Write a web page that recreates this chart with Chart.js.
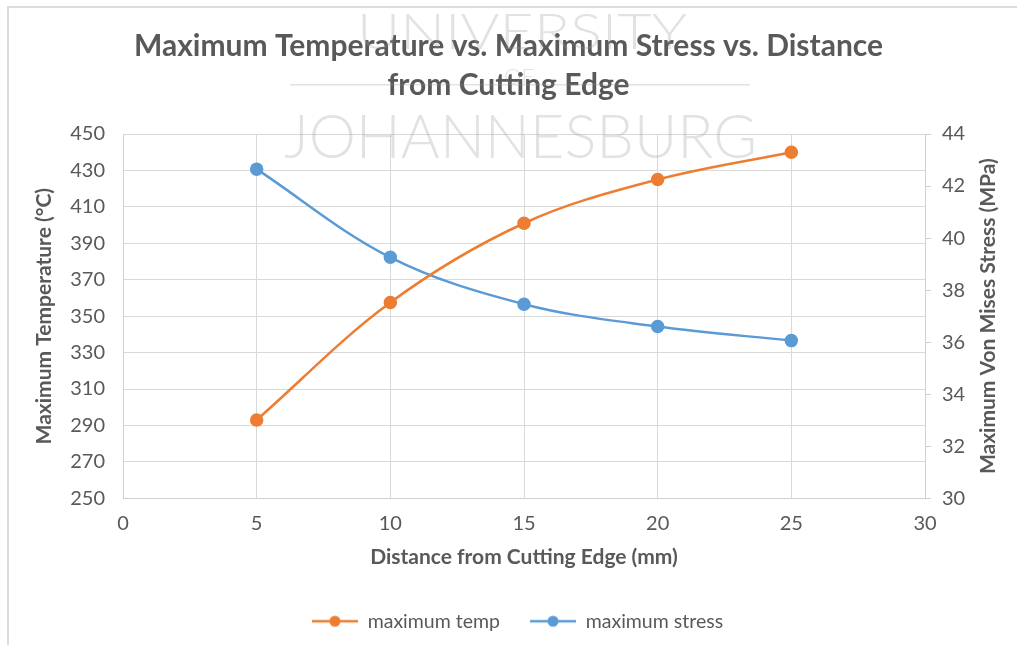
<!DOCTYPE html>
<html>
<head>
<meta charset="utf-8">
<script src="https://cdn.jsdelivr.net/npm/chart.js@4.4.1/dist/chart.umd.min.js"></script>
<style>
  body { margin: 0; background: #fff; }
  #wrap { position: relative; width: 1017px; height: 645px; }
  #frame { position: absolute; left: 7px; top: 6px; right: 0; bottom: 0;
           border-left: 2px solid #dcdcdc; border-top: 2px solid #dcdcdc; pointer-events: none; }
</style>
</head>
<body>
<div id="wrap">
  <canvas id="myChart" width="1017" height="645"></canvas>
  <div id="frame"></div>
</div>
<script>
const distances = [5, 10, 15, 20, 25];
const maxTemp = [293, 357.5, 401, 425, 440];
const maxStress = [42.65, 39.26, 37.46, 36.6, 36.06];
const seriesNames = ['maximum temp', 'maximum stress'];
const chartTitle = ['Maximum Temperature vs. Maximum Stress vs. Distance', 'from Cutting Edge'];
const xTitle = 'Distance from Cutting Edge (mm)';
const yTitle = 'Maximum Temperature (°C)';
const y1Title = 'Maximum Von Mises Stress (MPa)';
const watermark = ['UNIVERSITY', 'OF', 'JOHANNESBURG'];

const orange = '#ED7D31';
const blue = '#5B9BD5';
const grey = '#595959';
const tickFont = { family: 'Lato', size: 20 };
const axisFont = { family: 'Lato', size: 21, weight: 'bold' };

// legend marker: short line with a dot, padded on the left to space the items
function legendIcon(color){
    const c = document.createElement('canvas');
    c.width = 64; c.height = 14;
    const g = c.getContext('2d');
    g.strokeStyle = color;
    g.lineWidth = 2.5;
    g.beginPath();
    g.moveTo(18, 7); g.lineTo(64, 7);
    g.stroke();
    g.fillStyle = color;
    g.beginPath();
    g.arc(41, 7, 5.5, 0, Math.PI * 2);
    g.fill();
    return c;
}
const icons = [legendIcon(orange), legendIcon(blue)];

function toPoints(values){
    return distances.map((d, i) => ({x: d, y: values[i]}));
}

// faint university watermark over the title area
const watermarkPlugin = {
    id: 'watermark',
    afterDraw(chart){
        const ctx = chart.ctx;
        ctx.save();
        ctx.fillStyle = 'rgba(150,150,150,0.28)';
        ctx.textBaseline = 'alphabetic';
        const fit = (text, size, left, width, base) => {
            ctx.font = '300 ' + size + 'px Lato, "DejaVu Sans"';
            const w = ctx.measureText(text).width;
            ctx.save();
            ctx.translate(left, base);
            ctx.scale(width / w, 1);
            ctx.fillText(text, 0, 0);
            ctx.restore();
        };
        fit(watermark[0], 50, 357, 330, 49);
        fit(watermark[1], 22, 504, 30, 84);
        fit(watermark[2], 62, 284, 473, 158);
        ctx.fillRect(290, 84, 460, 1.5);
        ctx.restore();
    }
};

// right axis title reads bottom-to-top, like the left one
const rightTitlePlugin = {
    id: 'rightTitle',
    afterDraw(chart){
        const ctx = chart.ctx;
        const area = chart.chartArea;
        ctx.save();
        ctx.translate(988, (area.top + area.bottom) / 2);
        ctx.rotate(-Math.PI / 2);
        ctx.font = 'bold ' + axisFont.size + 'px Lato';
        ctx.fillStyle = grey;
        ctx.textAlign = 'center';
        ctx.textBaseline = 'middle';
        ctx.fillText(y1Title, 0, 0);
        ctx.restore();
    }
};

new Chart(document.getElementById('myChart'), {
    type: 'line',
    data: {
        datasets: [{
            label: seriesNames[0],
            data: toPoints(maxTemp),
            yAxisID: 'y',
            borderColor: orange,
            backgroundColor: orange,
            borderWidth: 2.5,
            pointRadius: 5.5,
            pointHoverRadius: 5.5,
            tension: 0.35
        }, {
            label: seriesNames[1],
            data: toPoints(maxStress),
            yAxisID: 'y1',
            borderColor: blue,
            backgroundColor: blue,
            borderWidth: 2.5,
            pointRadius: 5.5,
            pointHoverRadius: 5.5,
            tension: 0.35
        }]
    },
    options: {
        responsive: false,
        animation: false,
        layout: { padding: { left: 0, right: 0, top: 0, bottom: 4 } },
        plugins: {
            tooltip: { enabled: false },
            title: {
                display: true,
                text: chartTitle,
                color: grey,
                font: { family: 'Lato', size: 30, weight: 'bold', lineHeight: 1.3 },
                padding: { top: 27, bottom: 29 }
            },
            legend: {
                position: 'bottom',
                labels: {
                    usePointStyle: true,
                    pointStyleWidth: 64,
                    color: grey,
                    font: { family: 'Lato', size: 19.5 },
                    padding: 12,
                    generateLabels(chart){
                        const items = Chart.defaults.plugins.legend.labels.generateLabels(chart);
                        items.forEach(it => { it.pointStyle = icons[it.datasetIndex]; });
                        return items;
                    }
                }
            }
        },
        scales: {
            x: {
                type: 'linear',
                min: 0, max: 30,
                ticks: { stepSize: 5, color: grey, font: tickFont, padding: 13 },
                grid: { color: '#d9d9d9', drawTicks: false },
                border: { color: '#cfcfcf' },
                title: {
                    display: true,
                    text: xTitle,
                    color: grey,
                    font: axisFont,
                    padding: { top: -4, bottom: 30 }
                }
            },
            y: {
                position: 'left',
                min: 250, max: 450,
                ticks: { stepSize: 20, color: grey, font: tickFont, padding: 18 },
                grid: { color: '#d9d9d9', drawTicks: false },
                border: { color: '#cfcfcf' },
                title: {
                    display: true,
                    text: yTitle,
                    color: grey,
                    font: axisFont,
                    padding: { top: 32, bottom: 0 }
                },
                afterFit(scale){ scale.width = 123; }
            },
            y1: {
                position: 'right',
                min: 30, max: 44,
                ticks: { stepSize: 2, color: grey, font: tickFont, padding: 11 },
                grid: { drawOnChartArea: false, color: '#cfcfcf', tickLength: 6 },
                border: { color: '#cfcfcf' },
                afterFit(scale){ scale.width = 92; }
            }
        }
    },
    plugins: [watermarkPlugin, rightTitlePlugin]
});
</script>
</body>
</html>
